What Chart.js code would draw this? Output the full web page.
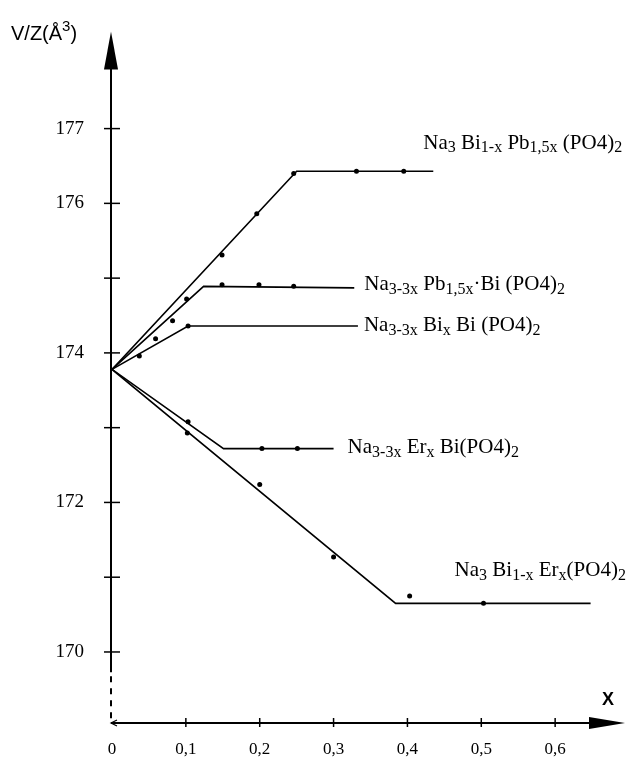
<!DOCTYPE html>
<html lang="fr">
<head>
<meta charset="UTF-8">
<title>V/Z en fonction de x</title>
<script src="https://cdn.jsdelivr.net/npm/chart.js"></script>
<style>
    body { margin: 0; background: #fff; }
    .wrap { width: 633px; height: 759px; position: relative; }
</style>
</head>
<body>
<div class="wrap"><canvas id="vz"></canvas></div>
<script>
// axis ticks
const xTickVals = [0, 0.1, 0.2, 0.3, 0.4, 0.5, 0.6];
const xTickLabels = ['0', '0,1', '0,2', '0,3', '0,4', '0,5', '0,6'];
const yTickVals = [170, 171, 172, 173, 174, 175, 176, 177];
const yTickLabels = ['170', '', '172', '', '174', '', '176', '177'];

const pbLineX = [0, 0.25, 0.435];
const pbLineY = [173.78, 176.43, 176.43];
const pbDotX = [0.149, 0.196, 0.246, 0.331, 0.395];
const pbDotY = [175.31, 175.86, 176.40, 176.43, 176.43];

const naPbLineX = [0, 0.124, 0.328];
const naPbLineY = [173.78, 174.89, 174.87];
const naPbDotX = [0.082, 0.101, 0.149, 0.199, 0.246];
const naPbDotY = [174.43, 174.72, 174.91, 174.91, 174.89];

const naBiLineX = [0, 0.103, 0.333];
const naBiLineY = [173.78, 174.36, 174.36];
const naBiDotX = [0.037, 0.059, 0.103];
const naBiDotY = [173.96, 174.19, 174.36];

const naErLineX = [0, 0.151, 0.30];
const naErLineY = [173.78, 172.72, 172.72];
const naErDotX = [0.103, 0.203, 0.251];
const naErDotY = [173.08, 172.72, 172.72];

const biErLineX = [0, 0.384, 0.648];
const biErLineY = [173.78, 170.65, 170.65];
const biErDotX = [0.102, 0.2, 0.30, 0.403, 0.503];
const biErDotY = [172.93, 172.24, 171.27, 170.75, 170.65];

// series names, [text, subscript?]
const seriesNames = [
    [['Na', 0], ['3', 1], [' Bi', 0], ['1-x', 1], [' Pb', 0], ['1,5x', 1], [' (PO4)', 0], ['2', 1]],
    [['Na', 0], ['3-3x', 1], [' Pb', 0], ['1,5x', 1], ['\u00b7Bi (PO4)', 0], ['2', 1]],
    [['Na', 0], ['3-3x', 1], [' Bi', 0], ['x', 1], [' Bi (PO4)', 0], ['2', 1]],
    [['Na', 0], ['3-3x', 1], [' Er', 0], ['x', 1], [' Bi(PO4)', 0], ['2', 1]],
    [['Na', 0], ['3', 1], [' Bi', 0], ['1-x', 1], [' Er', 0], ['x', 1], ['(PO4)', 0], ['2', 1]]
];

const pts = (xs, ys) => xs.map((x, i) => ({ x: x, y: ys[i] }));

function lineSet(xs, ys) {
    return { data: pts(xs, ys), showLine: true, borderColor: '#000', borderWidth: 1.6,
             pointRadius: 0, tension: 0 };
}
function dotSet(xs, ys) {
    return { data: pts(xs, ys), showLine: false, pointRadius: 2.5, borderWidth: 0,
             backgroundColor: '#000', pointBackgroundColor: '#000' };
}

const lines = [
    [pbLineX, pbLineY], [naPbLineX, naPbLineY], [naBiLineX, naBiLineY],
    [naErLineX, naErLineY], [biErLineX, biErLineY]
];
// where each name sits, relative to the end of its line (pixels)
const nameOffsets = [[-10, -28], [10, -3], [6, 0], [14, -1], [-136, -33]];

const serif = '"Liberation Serif", "Times New Roman", serif';

function drawRich(ctx, parts, x, y) {
    ctx.textBaseline = 'middle';
    ctx.textAlign = 'left';
    parts.forEach(p => {
        ctx.font = p[1] ? '16px ' + serif : '21px ' + serif;
        ctx.fillText(p[0], x, p[1] ? y + 5 : y);
        x += ctx.measureText(p[0]).width;
    });
}

const axesPlugin = {
    id: 'axes',
    afterDraw(chart) {
        const ctx = chart.ctx;
        const xs = chart.scales.x, ys = chart.scales.y;
        const ca = chart.chartArea;
        const x0 = xs.getPixelForValue(0) - 1;
        const yb = ca.bottom;
        ctx.save();
        ctx.strokeStyle = '#000';
        ctx.fillStyle = '#000';
        ctx.lineWidth = 2;

        // y axis: solid down to just under 170, dashed to the x axis
        const ySolidEnd = ys.getPixelForValue(169.73);
        ctx.beginPath();
        ctx.moveTo(x0, ca.top + 30);
        ctx.lineTo(x0, ySolidEnd);
        ctx.stroke();
        ctx.setLineDash([6, 6]);
        ctx.beginPath();
        ctx.moveTo(x0, ySolidEnd + 4);
        ctx.lineTo(x0, yb);
        ctx.stroke();
        ctx.setLineDash([]);
        // y arrow
        ctx.beginPath();
        ctx.moveTo(x0, ca.top);
        ctx.lineTo(x0 - 7, ca.top + 38);
        ctx.lineTo(x0 + 7, ca.top + 38);
        ctx.closePath();
        ctx.fill();

        // y ticks crossing the axis
        ctx.lineWidth = 1.5;
        yTickVals.forEach(v => {
            const py = ys.getPixelForValue(v);
            ctx.beginPath();
            ctx.moveTo(x0 - 7, py);
            ctx.lineTo(x0 + 9, py);
            ctx.stroke();
        });

        // x axis with arrow
        ctx.lineWidth = 2;
        ctx.beginPath();
        ctx.moveTo(x0, yb);
        ctx.lineTo(ca.right - 30, yb);
        ctx.stroke();
        ctx.beginPath();
        ctx.moveTo(ca.right - 4, yb);
        ctx.lineTo(ca.right - 40, yb - 6);
        ctx.lineTo(ca.right - 40, yb + 6);
        ctx.closePath();
        ctx.fill();
        // small head at the left end
        ctx.lineWidth = 1.2;
        ctx.beginPath();
        ctx.moveTo(x0 + 6, yb - 3);
        ctx.lineTo(x0, yb);
        ctx.lineTo(x0 + 6, yb + 3);
        ctx.stroke();
        ctx.lineWidth = 1.5;
        xTickVals.forEach(v => {
            if (v === 0) return;
            const px = xs.getPixelForValue(v);
            ctx.beginPath();
            ctx.moveTo(px, yb - 5);
            ctx.lineTo(px, yb + 4);
            ctx.stroke();
        });

        // axis titles
        ctx.font = 'bold 18px "Liberation Sans", Arial, sans-serif';
        ctx.textAlign = 'center';
        ctx.textBaseline = 'middle';
        ctx.fillText('X', ca.right - 21, yb - 23);

        ctx.font = '20px "Liberation Sans", Arial, sans-serif';
        ctx.textAlign = 'left';
        let tx = 11;
        ctx.fillText('V/Z(\u00c5', tx, 34);
        tx += ctx.measureText('V/Z(\u00c5').width;
        ctx.font = '15px "Liberation Sans", Arial, sans-serif';
        ctx.fillText('3', tx, 27);
        tx += ctx.measureText('3').width;
        ctx.font = '20px "Liberation Sans", Arial, sans-serif';
        ctx.fillText(')', tx, 34);

        // series names next to their lines
        lines.forEach((l, i) => {
            const n = l[0].length - 1;
            const px = xs.getPixelForValue(l[0][n]) + nameOffsets[i][0];
            const py = ys.getPixelForValue(l[1][n]) + nameOffsets[i][1];
            drawRich(ctx, seriesNames[i], px, py);
        });
        ctx.restore();
    }
};

new Chart(document.getElementById('vz').getContext('2d'), {
    type: 'scatter',
    data: {
        datasets: [
            ...lines.map(l => lineSet(l[0], l[1])),
            dotSet(pbDotX, pbDotY),
            dotSet(naPbDotX, naPbDotY),
            dotSet(naBiDotX, naBiDotY),
            dotSet(naErDotX, naErDotY),
            dotSet(biErDotX, biErDotY)
        ]
    },
    options: {
        responsive: true,
        maintainAspectRatio: false,
        animation: false,
        layout: { padding: { top: 15, right: 3, left: 0, bottom: 0 } },
        plugins: { legend: { display: false }, tooltip: { enabled: false } },
        scales: {
            x: {
                type: 'linear', min: 0, max: 0.70,
                grid: { display: false }, border: { display: false },
                afterBuildTicks: s => { s.ticks = xTickVals.map(v => ({ value: v })); },
                afterFit: s => { s.height = 36; },
                ticks: {
                    autoSkip: false, maxRotation: 0, padding: 8, color: '#000',
                    font: { family: serif, size: 17 },
                    callback: v => xTickLabels[xTickVals.indexOf(v)]
                }
            },
            y: {
                type: 'linear', min: 169.05, max: 178.3,
                grid: { display: false }, border: { display: false },
                afterBuildTicks: s => { s.ticks = yTickVals.map(v => ({ value: v })); },
                afterFit: s => { s.width = 112; },
                ticks: {
                    autoSkip: false, padding: 20, color: '#000',
                    font: { family: serif, size: 19 },
                    callback: v => yTickLabels[yTickVals.indexOf(v)]
                }
            }
        }
    },
    plugins: [axesPlugin]
});
</script>
</body>
</html>
